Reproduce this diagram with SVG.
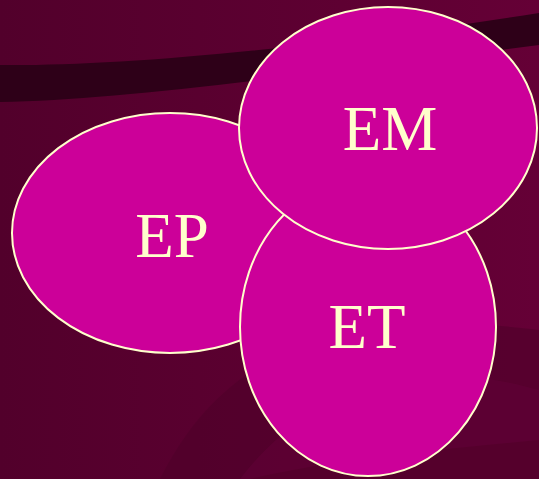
<svg xmlns="http://www.w3.org/2000/svg" width="539" height="479" viewBox="0 0 539 479">
  <defs>
    <linearGradient id="bg" x1="0" y1="0" x2="1" y2="0">
      <stop offset="0" stop-color="#52002B"/>
      <stop offset="1" stop-color="#650036"/>
    </linearGradient>
    <style>
      .node ellipse { fill: #CC0099; stroke: #FFFFCC; stroke-width: 2; }
      .node text { fill: #FFFFCC; font-family: "Liberation Serif", "Times New Roman", serif; font-size: 63px; text-anchor: middle; }
    </style>
  </defs>
  <!-- backdrop -->
  <rect width="539" height="479" fill="url(#bg)"/>
  <path d="M0,65 C120,66 300,50 539,13 L539,45 C300,75 120,100 0,102 Z" fill="#2E0018"/>
  <!-- faint fan in the lower right -->
  <path d="M160,479 C210,380 300,300 539,330 L539,479 Z" fill="#4E0029" opacity="0.6"/>
  <path d="M240,479 C300,400 400,350 539,390 L539,479 Z" fill="#5E0034" opacity="0.8"/>
  <path d="M250,479 C330,460 430,450 539,440 L539,479 Z" fill="#520029" opacity="0.7"/>

  <g id="EP" class="node">
    <ellipse cx="170" cy="233" rx="158" ry="120"/>
    <text x="172" y="257">EP</text>
  </g>
  <g id="ET" class="node">
    <ellipse cx="368" cy="327" rx="128" ry="149"/>
    <text x="367" y="348">ET</text>
  </g>
  <g id="EM" class="node">
    <ellipse cx="388" cy="128" rx="149" ry="121"/>
    <text x="390" y="150">EM</text>
  </g>
  <g id="connectors"/>
</svg>
